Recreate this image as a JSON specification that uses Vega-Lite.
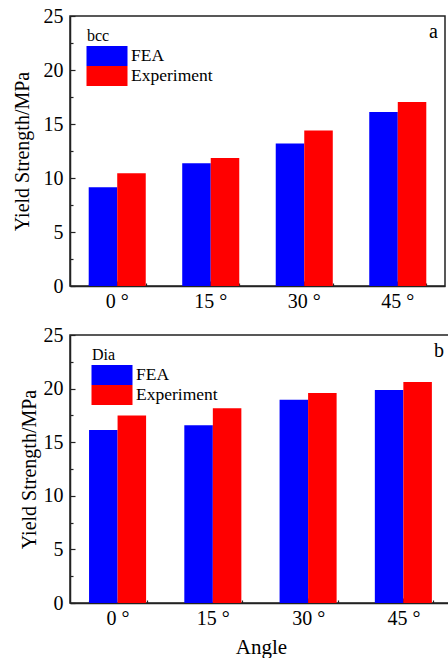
{
  "$schema": "https://vega.github.io/schema/vega-lite/v6.json",
  "padding": {"left": 11, "top": 5, "right": 0, "bottom": 5},
  "datasets": {
    "bcc": [
      {"angle": "0 °", "series": "FEA", "value": 9.14},
      {"angle": "0 °", "series": "Experiment", "value": 10.43},
      {"angle": "15 °", "series": "FEA", "value": 11.36},
      {"angle": "15 °", "series": "Experiment", "value": 11.85},
      {"angle": "30 °", "series": "FEA", "value": 13.2},
      {"angle": "30 °", "series": "Experiment", "value": 14.4},
      {"angle": "45 °", "series": "FEA", "value": 16.1},
      {"angle": "45 °", "series": "Experiment", "value": 17.04}
    ],
    "dia": [
      {"angle": "0 °", "series": "FEA", "value": 16.14},
      {"angle": "0 °", "series": "Experiment", "value": 17.5},
      {"angle": "15 °", "series": "FEA", "value": 16.57},
      {"angle": "15 °", "series": "Experiment", "value": 18.16},
      {"angle": "30 °", "series": "FEA", "value": 18.97},
      {"angle": "30 °", "series": "Experiment", "value": 19.59},
      {"angle": "45 °", "series": "FEA", "value": 19.87},
      {"angle": "45 °", "series": "Experiment", "value": 20.62}
    ]
  },
  "config": {
    "font": "Liberation Serif",
    "view": {"stroke": "#222222", "strokeWidth": 1.5},
    "axis": {
      "labelFontSize": 20, "titleFontSize": 20, "titleFontWeight": "normal",
      "domainColor": "#222222", "tickColor": "#222222",
      "domainWidth": 1.5, "tickWidth": 1.2, "grid": false
    },
    "legend": {
      "titleFontWeight": "normal", "titleFontSize": 16, "labelFontSize": 17.5,
      "symbolType": "M-2.05,-1H2.05V1H-2.05Z", "symbolSize": 400,
      "symbolStrokeWidth": 0, "symbolOpacity": 1, "rowPadding": 0,
      "titlePadding": 2, "labelOffset": 14, "symbolOffset": 10
    },
    "title": {"fontSize": 20, "fontWeight": "normal"}
  },
  "spacing": 12,
  "vconcat": [
    {
      "width": 375, "height": 270,
      "data": {"name": "bcc"},
      "title": {"text": "a", "anchor": "end", "frame": "group", "offset": -36, "dx": -7},
      "layer": [
        {
          "mark": {"type": "bar"},
          "encoding": {
            "x": {"field": "angle", "type": "nominal", "sort": ["0 °", "15 °", "30 °", "45 °"],
                  "scale": {"paddingInner": 0.39, "paddingOuter": 0.2},
                  "axis": {"title": null, "labelAngle": 0, "tickSize": -5, "labelPadding": 10}},
            "xOffset": {"field": "series", "sort": ["FEA", "Experiment"], "scale": {"paddingInner": 0}},
            "y": {"field": "value", "type": "quantitative", "scale": {"domain": [0, 25]},
                  "axis": {"title": "Yield Strength/MPa",
                           "values": [0, 2.5, 5, 7.5, 10, 12.5, 15, 17.5, 20, 22.5, 25],
                           "labelExpr": "datum.value % 5 === 0 ? datum.label : ''",
                           "labelOverlap": false,
                           "tickSize": {"condition": {"test": "datum.value % 5 === 0", "value": -5}, "value": -3},
                           "labelPadding": 12, "titlePadding": 11}},
            "color": {"field": "series", "sort": ["FEA", "Experiment"],
                      "scale": {"range": ["#0000ff", "#ff0000"]},
                      "legend": {"orient": "none", "legendX": 17, "legendY": 12, "title": "bcc"}}
          }
        },
        {
          "mark": {"type": "rule", "opacity": 0},
          "encoding": {
            "x": {"field": "angle", "type": "nominal", "sort": ["0 °", "15 °", "30 °", "45 °"],
                  "axis": {"orient": "bottom", "tickBand": "extent", "labels": false, "domain": false, "title": null, "tickSize": -3}}
          }
        }
      ],
      "resolve": {"axis": {"x": "independent"}}
    },
    {
      "width": 382, "height": 268,
      "data": {"name": "dia"},
      "title": {"text": "b", "anchor": "end", "frame": "group", "offset": -36, "dx": -8},
      "layer": [
        {
          "mark": {"type": "bar"},
          "encoding": {
            "x": {"field": "angle", "type": "nominal", "sort": ["0 °", "15 °", "30 °", "45 °"],
                  "scale": {"paddingInner": 0.39, "paddingOuter": 0.2},
                  "axis": {"title": "Angle", "titleFontSize": 21, "titlePadding": 8,
                           "labelAngle": 0, "tickSize": -5, "labelPadding": 10}},
            "xOffset": {"field": "series", "sort": ["FEA", "Experiment"], "scale": {"paddingInner": 0}},
            "y": {"field": "value", "type": "quantitative", "scale": {"domain": [0, 25]},
                  "axis": {"title": "Yield Strength/MPa",
                           "values": [0, 2.5, 5, 7.5, 10, 12.5, 15, 17.5, 20, 22.5, 25],
                           "labelExpr": "datum.value % 5 === 0 ? datum.label : ''",
                           "labelOverlap": false,
                           "tickSize": {"condition": {"test": "datum.value % 5 === 0", "value": -5}, "value": -3},
                           "labelPadding": 12, "titlePadding": 3.7}},
            "color": {"field": "series", "sort": ["FEA", "Experiment"],
                      "scale": {"range": ["#0000ff", "#ff0000"]},
                      "legend": {"orient": "none", "legendX": 22, "legendY": 12, "title": "Dia"}}
          }
        },
        {
          "mark": {"type": "rule", "opacity": 0},
          "encoding": {
            "x": {"field": "angle", "type": "nominal", "sort": ["0 °", "15 °", "30 °", "45 °"],
                  "axis": {"orient": "bottom", "tickBand": "extent", "labels": false, "domain": false, "title": null, "tickSize": -3}}
          }
        }
      ],
      "resolve": {"axis": {"x": "independent"}}
    }
  ],
  "resolve": {"scale": {"color": "independent"}}
}
